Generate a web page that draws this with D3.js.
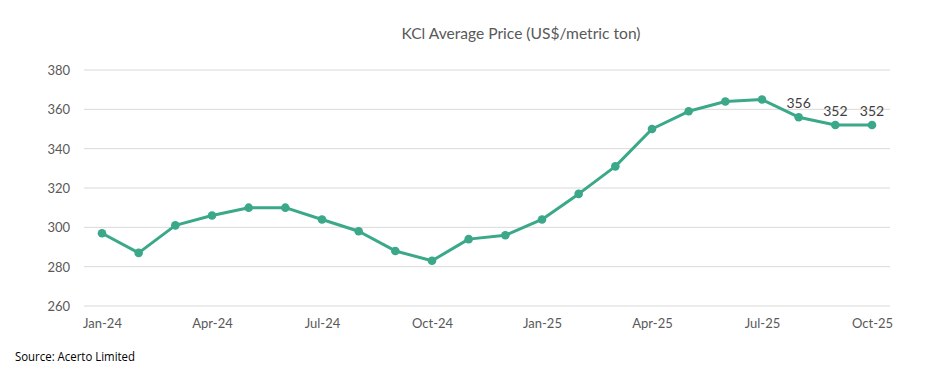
<!DOCTYPE html>
<html><head><meta charset="utf-8">
<script src="https://cdn.jsdelivr.net/npm/d3@7"></script>
<style>body{margin:0;background:#fff}svg{display:block}</style>
</head><body>
<svg id="c" width="929" height="382"></svg>
<script>
const months = ["Jan-24","Feb-24","Mar-24","Apr-24","May-24","Jun-24","Jul-24","Aug-24","Sep-24","Oct-24","Nov-24","Dec-24","Jan-25","Feb-25","Mar-25","Apr-25","May-25","Jun-25","Jul-25","Aug-25","Sep-25","Oct-25"];
const prices = [297,287,301,306,310,310,304,298,288,283,294,296,304,317,331,350,359,364,365,356,352,352];
const tickLabels = ["Jan-24","Apr-24","Jul-24","Oct-24","Jan-25","Apr-25","Jul-25","Oct-25"];
const yTicks = [260,280,300,320,340,360,380];
const labeled = ["Aug-25","Sep-25","Oct-25"];
const title = "KCl Average Price (US$/metric ton)";
const source = "Source: Acerto Limited";

const svg = d3.select("#c");
const x = d3.scalePoint().domain(months).range([102, 872]);
const y = d3.scaleLinear().domain([260, 380]).range([306, 70]);

svg.append("g").selectAll("line").data(yTicks).join("line")
  .attr("x1", 84).attr("x2", 890)
  .attr("y1", d => y(d)).attr("y2", d => y(d))
  .attr("stroke", "#d9d9d9").attr("stroke-width", 1);

const yAxis = d3.axisLeft(y).tickValues(yTicks).tickSize(0).tickPadding(0);
const ga = svg.append("g").attr("transform", "translate(70,0)").call(yAxis);
ga.select(".domain").remove();
ga.selectAll("text").attr("font-family", "Lato, sans-serif").attr("font-size", 13).attr("fill", "#595959").attr("dy", "0.35em");

const xAxis = d3.axisBottom(x).tickValues(tickLabels).tickSize(0).tickPadding(0);
const gx = svg.append("g").attr("transform", "translate(0,320)").call(xAxis);
gx.select(".domain").remove();
gx.selectAll("text").attr("font-family", "Lato, sans-serif").attr("font-size", 13).attr("fill", "#595959").attr("dy", "0.6em");

const color = "#3aa889";
const line = d3.line().x((d, i) => x(months[i])).y(d => y(d));
svg.append("path").datum(prices).attr("d", line)
  .attr("fill", "none").attr("stroke", color).attr("stroke-width", 3).attr("stroke-linejoin", "round");

svg.append("g").selectAll("circle").data(prices).join("circle")
  .attr("cx", (d, i) => x(months[i])).attr("cy", d => y(d)).attr("r", 4.3).attr("fill", color);

svg.append("g").selectAll("text").data(months.map((m, i) => ({m, v: prices[i]})).filter(d => labeled.includes(d.m)))
  .join("text")
  .attr("x", d => x(d.m)).attr("y", d => y(d.v) - 9)
  .attr("text-anchor", "middle")
  .attr("font-family", "Lato, sans-serif").attr("font-size", 14).attr("fill", "#404040")
  .text(d => d.v);

svg.append("text").attr("x", 521).attr("y", 39).attr("text-anchor", "middle")
  .attr("font-family", "Lato, sans-serif").attr("font-size", 16).attr("fill", "#595959")
  .attr("textLength", 239).attr("lengthAdjust", "spacingAndGlyphs")
  .text(title);

svg.append("text").attr("x", 15).attr("y", 361)
  .attr("font-family", "'Open Sans', sans-serif").attr("font-size", 12).attr("fill", "#000")
  .attr("textLength", 120).attr("lengthAdjust", "spacingAndGlyphs")
  .text(source);
</script>
</body></html>
